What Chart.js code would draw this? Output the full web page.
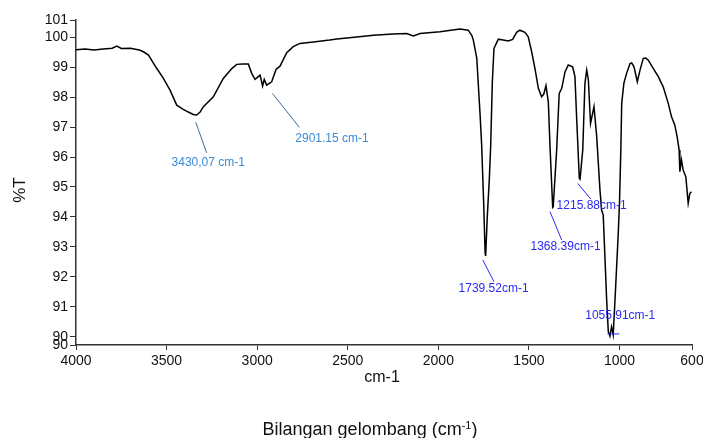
<!DOCTYPE html>
<html>
<head>
<meta charset="utf-8">
<script src="https://cdn.jsdelivr.net/npm/chart.js@4"></script>
<style>
html,body{margin:0;padding:0;background:#fff;}
#wrap{width:703px;height:438px;position:relative;}
</style>
</head>
<body>
<div id="wrap"><canvas id="c" width="703" height="438"></canvas></div>
<script>
// Wavenumbers (cm-1) and transmittance (%T)
const wavenumbers = [4000,3950,3900,3850,3800,3775,3750,3700,3650,3628,3600,3555,3520,3481,3444,3408,3380,3353,3334,3315,3297,3242,3187,3140,3113,3080,3049,3030,3012,2994,2984,2970,2961,2948,2935,2920,2896,2874,2837,2801,2764,2690,2600,2561,2450,2359,2250,2175,2138,2101,1991,1881,1835,1815,1807,1788,1770,1761,1750,1742,1739,1730,1719,1711,1702,1693,1669,1642,1614,1590,1568,1550,1522,1504,1485,1467,1448,1430,1418,1406,1393,1384,1369,1366,1347,1333,1319,1301,1283,1259,1246,1237,1222,1218,1203,1191,1181,1172,1160,1141,1126,1108,1099,1090,1071,1062,1053,1044,1035,1025,1007,1000,993,988,976,961,942,933,920,902,887,869,855,841,814,786,759,731,713,695,682,671,667,658,649,634,621,612,603];
const transmittance = [99.58,99.60,99.57,99.60,99.63,99.70,99.62,99.63,99.57,99.51,99.40,98.96,98.65,98.23,97.73,97.59,97.50,97.42,97.40,97.50,97.68,98.01,98.62,98.95,99.09,99.10,99.10,98.79,98.59,98.68,98.73,98.37,98.59,98.40,98.45,98.51,98.92,99.03,99.48,99.68,99.79,99.84,99.90,99.94,100.00,100.06,100.10,100.12,100.04,100.12,100.18,100.27,100.23,100.05,99.90,99.30,97.45,96.40,94.50,92.80,92.70,94.00,95.23,96.40,98.51,99.62,99.93,99.90,99.87,99.92,100.16,100.23,100.16,100.01,99.51,98.96,98.29,98.01,98.10,98.38,97.84,96.40,94.32,94.34,96.23,98.12,98.29,98.84,99.07,99.01,98.68,97.34,95.29,95.26,96.23,98.46,98.90,98.57,97.12,97.68,96.68,94.90,94.23,94.07,91.23,90.18,90.03,90.34,90.07,91.23,93.46,94.50,96.20,97.79,98.46,98.79,99.12,99.14,99.01,98.51,98.90,99.29,99.30,99.23,98.96,98.68,98.34,97.79,97.34,97.07,96.68,96.23,95.51,95.90,95.57,95.34,94.46,94.79,94.84];
const xTickValues = [4000,3500,3000,2500,2000,1500,1000,600];
const yTickValues = [90,91,92,93,94,95,96,97,98,99,100];
const yMin = 89.73, yMax = 100.57;

// Peak labels: leader line from (w1,t1) to (w2,t2), text centred at (wt,tt)
const peakLabels = [
  {text:'3430,07 cm-1', w1:3339, t1:97.16, w2:3279, t2:96.14, wt:3270, tt:95.81, textColor:'#3a8ad6', lineColor:'#3f6a96'},
  {text:'2901.15 cm-1', w1:2916, t1:98.12, w2:2767, t2:96.99, wt:2587, tt:96.60, textColor:'#3a8ad6', lineColor:'#3f6a96'},
  {text:'1739.52cm-1', w1:1755, t1:92.57, w2:1693, t2:91.84, wt:1695, tt:91.62, textColor:'#2a2af5', lineColor:'#2a2af5'},
  {text:'1368.39cm-1', w1:1384, t1:94.18, w2:1319, t2:93.23, wt:1298, tt:93.01, textColor:'#2a2af5', lineColor:'#2a2af5'},
  {text:'1215.88cm-1', w1:1231, t1:95.12, w2:1159, t2:94.60, wt:1154, tt:94.38, textColor:'#2a2af5', lineColor:'#2a2af5'},
  {text:'1055.91cm-1', w1:1067, t1:90.10, w2:1001, t2:90.10, wt:996, tt:90.70, textColor:'#2a2af5', lineColor:'#2a2af5'}
];

const FONT = "'Liberation Sans', Arial, sans-serif";

const textPlugin = {
  id:'texts',
  afterDraw(chart){
    const ctx = chart.ctx;
    const xs = chart.scales.x, ys = chart.scales.y;
    ctx.save();
    peakLabels.forEach(p=>{
      ctx.strokeStyle = p.lineColor;
      ctx.lineWidth = 1;
      ctx.beginPath();
      ctx.moveTo(xs.getPixelForValue(p.w1), ys.getPixelForValue(p.t1));
      ctx.lineTo(xs.getPixelForValue(p.w2), ys.getPixelForValue(p.t2));
      ctx.stroke();
      ctx.fillStyle = p.textColor;
      ctx.font = '12px ' + FONT;
      ctx.textAlign = 'center';
      ctx.textBaseline = 'middle';
      ctx.fillText(p.text, xs.getPixelForValue(p.wt), ys.getPixelForValue(p.tt));
    });
    ctx.fillStyle = '#111';
    ctx.save();
    ctx.translate(20, 190);
    ctx.rotate(-Math.PI/2);
    ctx.font = '17px ' + FONT;
    ctx.textAlign = 'center';
    ctx.textBaseline = 'middle';
    ctx.fillText('%T', 0, 0);
    ctx.restore();
    ctx.font = '16px ' + FONT;
    ctx.textAlign = 'center';
    ctx.textBaseline = 'alphabetic';
    ctx.fillText('cm-1', 382, 382);
    const main = 'Bilangan gelombang (cm';
    const sup = '-1';
    const end = ')';
    ctx.font = '18px ' + FONT;
    const w1 = ctx.measureText(main).width;
    const w3 = ctx.measureText(end).width;
    ctx.font = '11px ' + FONT;
    const w2 = ctx.measureText(sup).width;
    const total = w1 + w2 + w3;
    let x0 = 370 - total/2;
    ctx.textAlign = 'left';
    ctx.textBaseline = 'alphabetic';
    ctx.font = '18px ' + FONT;
    ctx.fillText(main, x0, 435);
    ctx.font = '11px ' + FONT;
    ctx.fillText(sup, x0 + w1, 429);
    ctx.font = '18px ' + FONT;
    ctx.fillText(end, x0 + w1 + w2, 435);
    ctx.restore();
  }
};

const points = wavenumbers.map((w,i)=>({x:w, y:transmittance[i]}));

new Chart(document.getElementById('c'), {
  type:'line',
  data:{datasets:[{data:points, borderColor:'#000', borderWidth:1.5, pointRadius:0, tension:0, fill:false}]},
  options:{
    responsive:false,
    animation:false,
    events:[],
    layout:{padding:{top:20, right:0, left:0, bottom:0}},
    plugins:{legend:{display:false}, tooltip:{enabled:false}},
    scales:{
      x:{
        type:'linear', reverse:true, min:600, max:4000,
        afterBuildTicks:s=>{ s.ticks = xTickValues.map(v=>({value:v})); },
        afterFit:s=>{ s.height = 93; s.paddingRight = 11; },
        ticks:{font:{family:FONT, size:14}, color:'#111', maxRotation:0, autoSkip:false, padding:3, callback:v=>String(v)},
        grid:{display:true, drawOnChartArea:false, drawTicks:true, tickLength:5, color:'#333', lineWidth:1},
        border:{display:true, color:'#333', width:1.5}
      },
      y:{
        type:'linear', min:yMin, max:yMax,
        afterBuildTicks:s=>{ s.ticks = [yMin, ...yTickValues, yMax].map(v=>({value:v})); },
        afterFit:s=>{ s.width = 76; },
        ticks:{font:{family:FONT, size:14}, color:'#111', autoSkip:false, padding:2, callback:v=>String(Math.round(v))},
        grid:{display:true, drawOnChartArea:false, drawTicks:true, tickLength:6, color:'#333', lineWidth:1},
        border:{display:true, color:'#333', width:1.5}
      }
    }
  },
  plugins:[textPlugin]
});
</script>
</body>
</html>
